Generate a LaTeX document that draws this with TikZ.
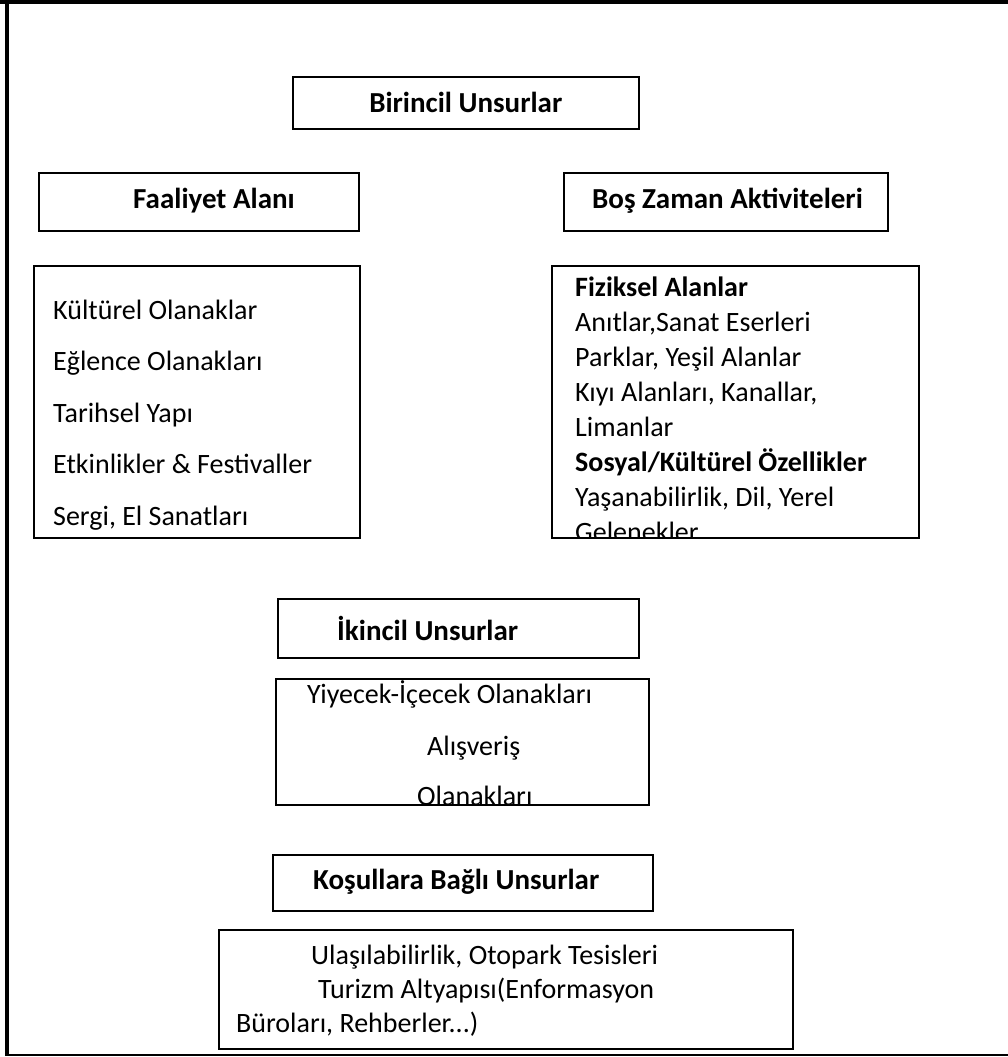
\documentclass[tikz,border=0pt]{standalone}
\usepackage{fontspec}
\setmainfont{Carlito}
\usetikzlibrary{positioning}

\tikzset{
    kutu/.style={draw=black, line width=1.5pt, inner sep=0pt, anchor=north west},
    baslik/.style={font=\fontsize{29}{35}\bfseries\selectfont, inner sep=0pt},
    madde/.style={font=\fontsize{28}{34}\selectfont, inner sep=0pt, anchor=base west},
}

\begin{document}
\begin{tikzpicture}[x=1pt,y=-1pt]
        \useasboundingbox (0,0) rectangle (1008,1057);
        % cerceve
        \draw[line width=4pt] (0,2) -- (1008,2);
        \draw[line width=4pt] (7,0) -- (7,1056);
        \draw[line width=1.5pt] (7,1055) -- (1008,1055);

        % birincil unsurlar
        \node[kutu, minimum width=346pt, minimum height=52pt] (birincil) at (292,76) {};
        \node[baslik] (birincilyazi) at (birincil.center) {Birincil Unsurlar};

        \node[kutu, minimum width=320pt, minimum height=58pt] (faaliyet) at (38,172) {};
        \node[baslik, anchor=west] (faaliyetyazi) at (133,201) {Faaliyet Alanı};
        \node[kutu, minimum width=324pt, minimum height=58pt] (boszaman) at (563,172) {};
        \node[baslik, anchor=west] (boszamanyazi) at (592,201) {Boş Zaman Aktiviteleri};

        % sol liste
        \node[kutu, minimum width=326pt, minimum height=272pt] (sol) at (33,265) {};
        \node[madde] (kulturel) at (53,319) {Kültürel Olanaklar};
        \node[madde] (eglence) at (53,370) {Eğlence Olanakları};
        \node[madde] (tarihsel) at (53,422) {Tarihsel Yapı};
        \node[madde] (etkinlik) at (53,473) {Etkinlikler \& Festivaller};
        \node[madde] (sergi) at (53,525) {Sergi, El Sanatları};

        % sag liste, alt satir kutudan tasiyor
        \node[kutu, minimum width=367pt, minimum height=272pt] (sag) at (551,265) {};
        \begin{scope}
            \clip (sag.north west) rectangle (sag.south east);
            \node[madde, font=\fontsize{28}{34}\bfseries\selectfont] (fiziksel) at (575,296) {Fiziksel Alanlar};
            \node[madde] (anitlar) at (575,331) {Anıtlar,Sanat Eserleri};
            \node[madde] (parklar) at (575,366) {Parklar, Yeşil Alanlar};
            \node[madde] (kiyi) at (575,401) {Kıyı Alanları, Kanallar,};
            \node[madde] (limanlar) at (575,436) {Limanlar};
            \node[madde, font=\fontsize{28}{34}\bfseries\selectfont] (sosyal) at (575,471) {Sosyal/Kültürel Özellikler};
            \node[madde] (yasanabilir) at (575,506) {Yaşanabilirlik, Dil, Yerel};
            \node[madde] (gelenek) at (575,541) {Gelenekler};
        \end{scope}

        % ikincil unsurlar
        \node[kutu, minimum width=361pt, minimum height=59pt] (ikincil) at (277,598) {};
        \node[baslik, anchor=west] (ikincilyazi) at (337,628) {İkincil Unsurlar};
        \node[kutu, minimum width=373pt, minimum height=126pt] (yiyecek) at (275,678) {};
        \begin{scope}
            \clip (yiyecek.north west) rectangle (yiyecek.south east);
            \node[madde] (yiyecekyazi) at (307,703) {Yiyecek-İçecek Olanakları};
            \node[madde] (alisveris) at (427,755) {Alışveriş};
            \node[madde] (olanaklari) at (417,805) {Olanakları};
        \end{scope}

        % kosullara bagli unsurlar
        \node[kutu, minimum width=380pt, minimum height=56pt] (kosul) at (272,854) {};
        \node[baslik, anchor=west] (kosulyazi) at (313,882) {Koşullara Bağlı Unsurlar};
        \node[kutu, minimum width=574pt, minimum height=119pt] (ulasim) at (218,929) {};
        \node[madde] (ulasilabilir) at (311,964) {Ulaşılabilirlik, Otopark Tesisleri};
        \node[madde] (turizm) at (318,998) {Turizm Altyapısı(Enformasyon};
        \node[madde] (burolar) at (236,1032) {Büroları, Rehberler...)};
\end{tikzpicture}
\end{document}
